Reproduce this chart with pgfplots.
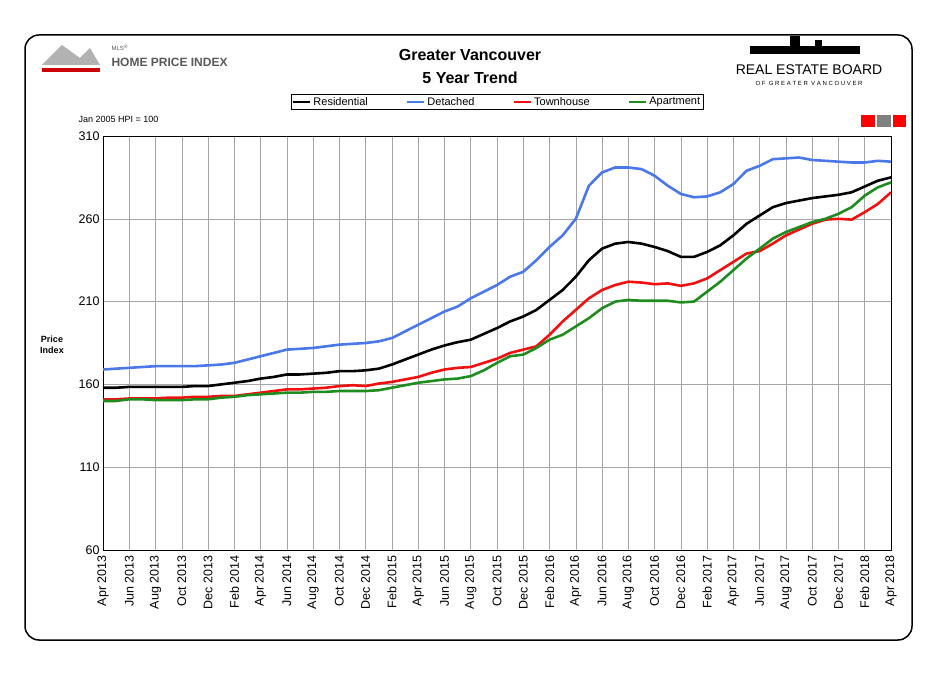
\documentclass[border=0pt]{standalone}
\usepackage{pgfplots}
\pgfplotsset{compat=1.18}
\usepackage{fontspec}
\setmainfont{Liberation Sans}
\definecolor{cblue}{HTML}{4A78E8}
\definecolor{cred}{HTML}{F01010}
\definecolor{cgreen}{HTML}{1E8C1E}
\begin{document}
\begin{tikzpicture}[x=1pt,y=1pt]
\path (0,0) rectangle (939,688);
\draw[line width=1.5pt,rounded corners=14pt] (25,48) rectangle (912,653);
\begin{axis}[name=ax,at={(103pt,138pt)},anchor=south west,scale only axis,width=788pt,height=414pt,
 xmin=0,xmax=60,ymin=60,ymax=310,
 xtick={0,2,...,60},
 xticklabels={Apr 2013,Jun 2013,Aug 2013,Oct 2013,Dec 2013,Feb 2014,Apr 2014,Jun 2014,Aug 2014,Oct 2014,Dec 2014,Feb 2015,Apr 2015,Jun 2015,Aug 2015,Oct 2015,Dec 2015,Feb 2016,Apr 2016,Jun 2016,Aug 2016,Oct 2016,Dec 2016,Feb 2017,Apr 2017,Jun 2017,Aug 2017,Oct 2017,Dec 2017,Feb 2018,Apr 2018},
 x tick label style={rotate=90,anchor=east,font=\fontsize{12.5}{12}\selectfont,xshift=-2pt},
 ytick={60,110,...,310},
 y tick label style={font=\fontsize{12.5}{12}\selectfont},
 /pgf/number format/assume math mode=true,
 grid=major, major grid style={gray!70,line width=0.5pt},
 tick style={draw=none}, axis line style={line width=0.8pt},
 legend style={at={(0.5,1.063)},anchor=south,legend columns=4,font=\fontsize{11}{11}\selectfont,draw=black,line width=0.8pt,inner sep=1pt,/tikz/every even column/.append style={column sep=36pt}},
 legend image post style={line width=2.5pt},
 every axis plot/.append style={line width=2.6pt,no marks}]
\addplot[black] coordinates {(0,158)(1,158)(2,158.5)(3,158.5)(4,158.5)(5,158.5)(6,158.5)(7,159)(8,159)(9,160)(10,161)(11,162)(12,163.5)(13,164.5)(14,166)(15,166)(16,166.5)(17,167)(18,168)(19,168)(20,168.5)(21,169.5)(22,172)(23,175)(24,178)(25,181)(26,183.5)(27,185.5)(28,187)(29,190.5)(30,194)(31,198)(32,201)(33,205)(34,211)(35,217)(36,225)(37,235)(38,242)(39,245)(40,246)(41,245)(42,243)(43,240.5)(44,237)(45,237)(46,240)(47,244)(48,250)(49,257)(50,262)(51,267)(52,269.5)(53,271)(54,272.5)(55,273.5)(56,274.5)(57,276)(58,279.5)(59,283)(60,285)};
\addplot[cblue] coordinates {(0,169)(1,169.5)(2,170)(3,170.5)(4,171)(5,171)(6,171)(7,171)(8,171.5)(9,172)(10,173)(11,175)(12,177)(13,179)(14,181)(15,181.5)(16,182)(17,183)(18,184)(19,184.5)(20,185)(21,186)(22,188)(23,192)(24,196)(25,200)(26,204)(27,207)(28,212)(29,216)(30,220)(31,225)(32,228)(33,235)(34,243)(35,250)(36,260)(37,280)(38,288)(39,291)(40,291)(41,290)(42,286)(43,280)(44,275)(45,273)(46,273.5)(47,276)(48,281)(49,289)(50,292)(51,296)(52,296.5)(53,297)(54,295.5)(55,295)(56,294.5)(57,294)(58,294)(59,295)(60,294.5)};
\addplot[cred] coordinates {(0,151)(1,151)(2,151.5)(3,151.5)(4,151.5)(5,152)(6,152)(7,152.5)(8,152.5)(9,153)(10,153)(11,154)(12,155)(13,156)(14,157)(15,157)(16,157.5)(17,158)(18,159)(19,159.5)(20,159)(21,160.5)(22,161.5)(23,163)(24,164.5)(25,167)(26,169)(27,170)(28,170.5)(29,173)(30,175.5)(31,179)(32,181)(33,183)(34,190)(35,198)(36,205)(37,212)(38,217)(39,220)(40,222)(41,221.5)(42,220.5)(43,221)(44,219.5)(45,221)(46,224)(47,229)(48,234)(49,239)(50,240.5)(51,245)(52,250)(53,253.5)(54,257)(55,259.5)(56,260)(57,259.5)(58,264)(59,269)(60,276)};
\addplot[cgreen] coordinates {(0,150)(1,150)(2,151)(3,151)(4,150.5)(5,150.5)(6,150.5)(7,151)(8,151)(9,152)(10,152.5)(11,153.5)(12,154)(13,154.5)(14,155)(15,155)(16,155.5)(17,155.5)(18,156)(19,156)(20,156)(21,156.5)(22,158)(23,159.5)(24,161)(25,162)(26,163)(27,163.5)(28,165)(29,168.5)(30,173)(31,177)(32,178)(33,182)(34,187)(35,190)(36,195)(37,200)(38,206)(39,210)(40,211)(41,210.5)(42,210.5)(43,210.5)(44,209.5)(45,210)(46,216)(47,222)(48,229)(49,236)(50,242)(51,248)(52,252)(53,255)(54,258)(55,260)(56,263)(57,267)(58,274)(59,279)(60,282)};
\legend{Residential,Detached,Townhouse,Apartment}
\end{axis}
\node[font=\bfseries\fontsize{16}{16}\selectfont] at (470,633) {Greater Vancouver};
\node[font=\bfseries\fontsize{16}{16}\selectfont] at (470,610) {5 Year Trend};
\node[font=\fontsize{9}{9}\selectfont,anchor=west] at (75,569) {Jan 2005 HPI = 100};
\node[font=\bfseries\fontsize{9}{11}\selectfont,align=center] at (52,343) {Price\\Index};
\fill[gray!60] (42,623) -- (62,643) -- (80,630) -- (90,640) -- (100,623) -- cycle;
\fill[red!80!black] (42,620) rectangle (100,616);
\node[font=\fontsize{6}{6}\selectfont,anchor=west,gray!70!black] at (108,640) {MLS\textsuperscript{®}};
\node[font=\bfseries\fontsize{12}{12}\selectfont,anchor=west,gray!70!black] at (108,626) {HOME PRICE INDEX};
\fill[black] (750,634) rectangle (860,642);
\fill[black] (790,642) rectangle (800,652);
\fill[black] (815,642) rectangle (822,648);
\node[font=\fontsize{14}{14}\selectfont,anchor=center] at (809,618) {REAL ESTATE BOARD};
\node[font=\fontsize{6}{6}\selectfont,anchor=center] at (809,605) {O F\ \ G R E A T E R\ \ V A N C O U V E R};
\fill[red] (861,561) rectangle (875,573);
\fill[gray] (877,561) rectangle (891,573);
\fill[red] (893,561) rectangle (906,573);
\end{tikzpicture}
\end{document}
